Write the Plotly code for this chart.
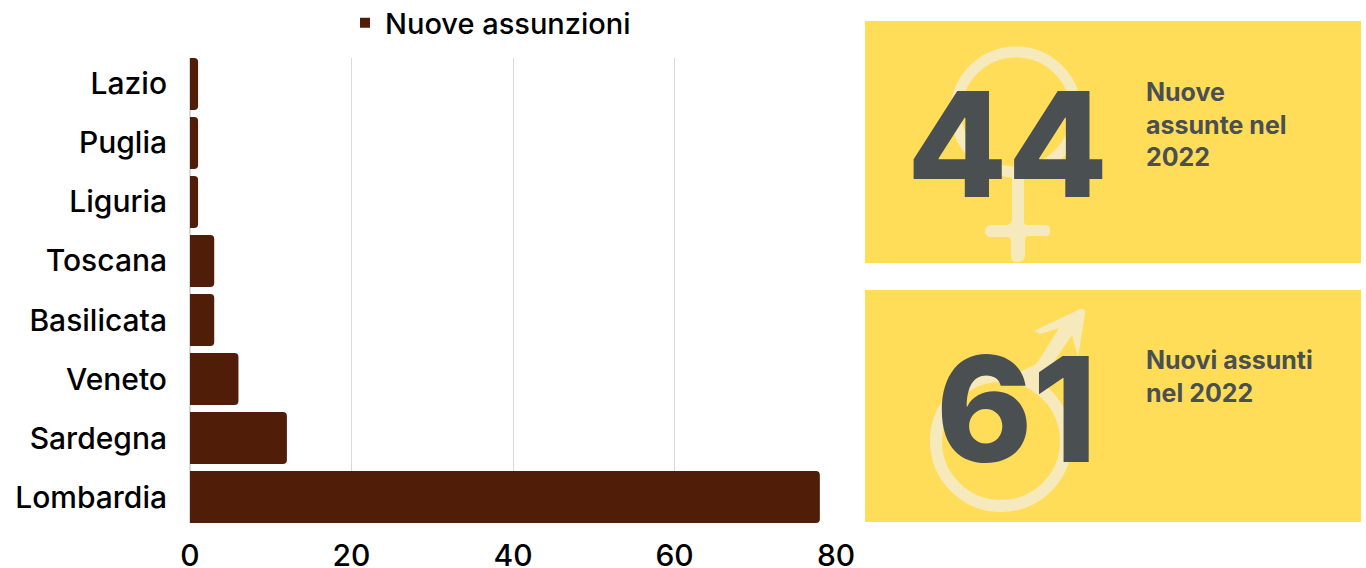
import plotly.graph_objects as go

W, H = 1366, 568
regions = ["Lombardia", "Sardegna", "Veneto", "Basilicata", "Toscana", "Liguria", "Puglia", "Lazio"]
hires = [78, 12, 6, 3, 3, 1, 1, 1]
x_ticks = [0, 20, 40, 60, 80]
series_name = "Nuove assunzioni"
women_count = "44"
men_count = "61"
women_label = "Nuove<br>assunte nel<br>2022"
men_label = "Nuovi assunti<br>nel 2022"

FONT = "Inter"
BROWN = "#501D08"
YELLOW = "#FFDD59"
PALE = "#F6E9BC"
SLATE = "#4A5052"


def px(x):
    return x / W


def py(y):
    return 1 - y / H


def path(cmds):
    out = []
    for c in cmds:
        if len(c) == 1:
            out.append(c[0])
        else:
            letter, *nums = c
            pts = []
            for i in range(0, len(nums), 2):
                pts.append(f"{px(nums[i]):.5f},{py(nums[i + 1]):.5f}")
            out.append(letter + " " + " ".join(pts))
    return " ".join(out)


def rect(x0, y0, x1, y1, color):
    return dict(type="rect", xref="paper", yref="paper", x0=px(x0), x1=px(x1), y0=py(y0), y1=py(y1),
                fillcolor=color, line_width=0, layer="below")


def ring(cx, cy, r, w):
    return dict(type="circle", xref="paper", yref="paper", x0=px(cx - r), x1=px(cx + r), y0=py(cy - r), y1=py(cy + r),
                fillcolor="rgba(0,0,0,0)", line=dict(color=PALE, width=w), layer="below")


def poly(cmds):
    return dict(type="path", xref="paper", yref="paper", path=path(cmds), fillcolor=PALE, line_width=0, layer="below")


shapes = [
    rect(865, 21, 1361, 263, YELLOW),
    rect(865, 290, 1361, 522, YELLOW),
    ring(1016, 112, 60, 11),
    poly([("M", 1012, 176), ("L", 1024, 176), ("Q", 1024, 180, 1024, 222), ("Q", 1024, 225, 1028, 225),
          ("L", 1046, 225), ("Q", 1051, 226, 1050, 232), ("Q", 1050, 236, 1046, 236), ("L", 1030, 236),
          ("Q", 1025, 236, 1025, 240), ("L", 1025, 256), ("Q", 1024, 262, 1017, 262), ("Q", 1011, 262, 1011, 256),
          ("L", 1011, 241), ("Q", 1011, 237, 1007, 237), ("L", 990, 237), ("Q", 985, 236, 985, 231),
          ("Q", 986, 225, 991, 225), ("L", 1007, 225), ("Q", 1012, 224, 1012, 218), ("Z",)]),
    ring(1001, 441, 65, 12),
    poly([("M", 1034, 331), ("L", 1080, 309), ("Q", 1086, 308, 1085, 314), ("L", 1078, 357), ("L", 1072, 335),
          ("L", 1051, 366), ("L", 1040, 382), ("L", 1020, 372), ("L", 1032, 366), ("Q", 1036, 365, 1039, 360),
          ("L", 1059, 328), ("L", 1040, 334), ("Z",)]),
]


def note(x, y, text, size, color, weight, anchor="left", yanchor="middle"):
    return dict(xref="paper", yref="paper", x=px(x), y=py(y), text=text, showarrow=False, xanchor=anchor,
                yanchor=yanchor, align=anchor, font=dict(family=FONT, size=size, color=color, weight=weight))


annotations = [
    note(1007.5, 144, women_count, 146, SLATE, 800, anchor="center"),
    note(1016, 409, men_count, 146, SLATE, 800, anchor="center"),
    note(1144, 125, women_label, 25, SLATE, 700),
    note(1144, 377, men_label, 25, SLATE, 700),
]

tick_font = dict(family=FONT, size=30, color="black", weight=500)

fig = go.Figure()
fig.add_bar(y=regions, x=hires, orientation="h", marker=dict(color=BROWN, line_width=0), width=0.88, showlegend=False)
fig.add_scatter(x=[None], y=[None], mode="markers", name=series_name,
                marker=dict(symbol="square", size=10, color=BROWN), showlegend=True)

fig.update_layout(
    width=W, height=H, margin=dict(l=0, r=0, t=0, b=0, autoexpand=False), paper_bgcolor="white", plot_bgcolor="white",
    barcornerradius=4, shapes=shapes, annotations=annotations,
    font=dict(family=FONT, color="black"),
    legend=dict(orientation="h", x=px(345), y=py(23), xanchor="left", yanchor="middle",
                font=dict(family=FONT, size=29, color="black", weight=500), bgcolor="rgba(0,0,0,0)"),
    xaxis=dict(domain=[px(190), px(836)], range=[0, 80], tickvals=x_ticks, showgrid=True, gridcolor="#D9D9D9",
               gridwidth=1, zeroline=True, zerolinecolor="#D9D9D9", showline=False, ticks="outside", automargin=False,
               ticklen=6, tickcolor="rgba(0,0,0,0)", tickfont=tick_font),
    yaxis=dict(domain=[py(523), py(58)], range=[-0.44, 7.44], type="category", categoryorder="array", automargin=False,
               categoryarray=regions, showgrid=False, zeroline=False, showline=False, ticks="outside",
               ticklen=16, tickcolor="rgba(0,0,0,0)", tickfont=tick_font),
)

post = """
document.body.style.margin='0';
document.documentElement.style.overflow='hidden';
"""
fig.write_html("out.html", config={"displayModeBar": False}, post_script=post)
